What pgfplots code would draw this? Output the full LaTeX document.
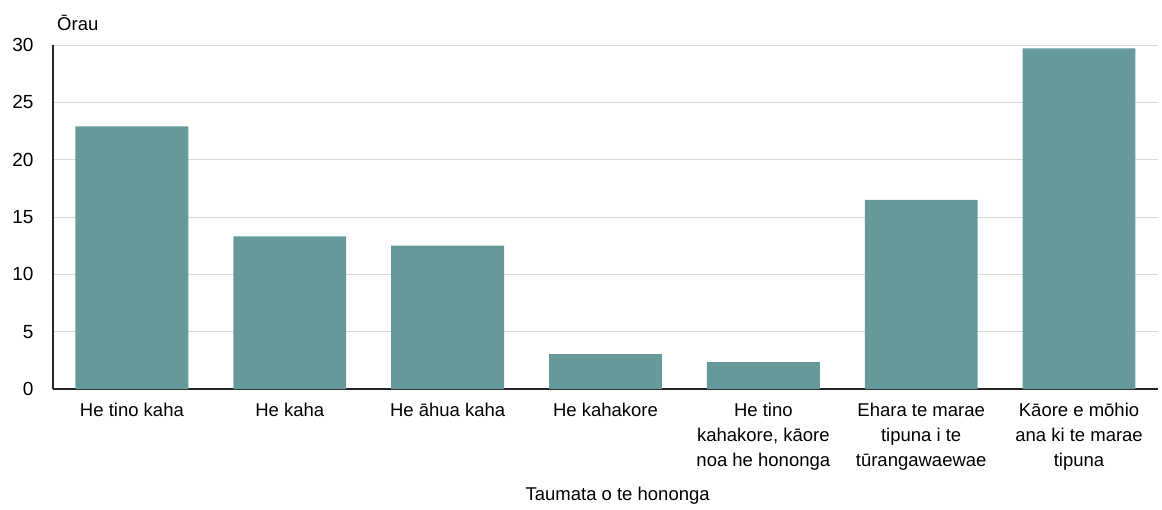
\documentclass[border=0pt]{standalone}
\usepackage{fontspec}
\setmainfont{Liberation Sans}
\usepackage{pgfplots}
\pgfplotsset{compat=1.18}
\definecolor{barteal}{RGB}{102,153,153}
\definecolor{gridgrey}{RGB}{217,217,217}
\begin{document}
\begin{tikzpicture}[x=1pt,y=1pt]
% frame the page at the reference size (1162 x 509)
\path[use as bounding box] (-53,-120) rectangle (1109,389);
\begin{axis}[
  at={(0,0)}, anchor=south west,
  scale only axis, width=1105pt, height=344pt,
  xmin=-0.5, xmax=6.5, ymin=0, ymax=30,
  ytick={0,5,...,30},
  xtick={0,...,6},
  xticklabels={{He tino kaha},{He kaha},{He āhua kaha},{He kahakore},{He tino\\kahakore, kāore\\noa he hononga},{Ehara te marae\\tipuna i te\\tūrangawaewae},{Kāore e mōhio\\ana ki te marae\\tipuna}},
  x tick label style={align=center, font=\fontsize{18.5}{25}\selectfont, yshift=-11pt},
  y tick label style={font=\fontsize{19}{22}\selectfont, xshift=-16pt},
  /pgf/number format/assume math mode=true,
  major tick length=0pt,
  axis x line*=bottom, axis y line*=left,
  axis line style={black!85, line width=1.3pt},
  ymajorgrids, grid style={gridgrey, line width=1pt},
  xlabel={Taumata o te hononga},
  xlabel style={font=\fontsize{18.5}{22}\selectfont, at={(axis description cs:0.511,0)}, anchor=center, yshift=-107pt},
  clip=false,
]
\addplot[ybar, bar width=0.715, bar shift=0pt, fill=barteal, draw=none] coordinates {
  (0,22.9) (1,13.3) (2,12.5) (3,3.05) (4,2.35) (5,16.5) (6,29.7)};
\node[anchor=base west, font=\fontsize{18.5}{22}\selectfont, inner sep=0pt] at (rel axis cs:0,1) [xshift=4pt, yshift=15pt] {Ōrau};
\end{axis}
\end{tikzpicture}
\end{document}
